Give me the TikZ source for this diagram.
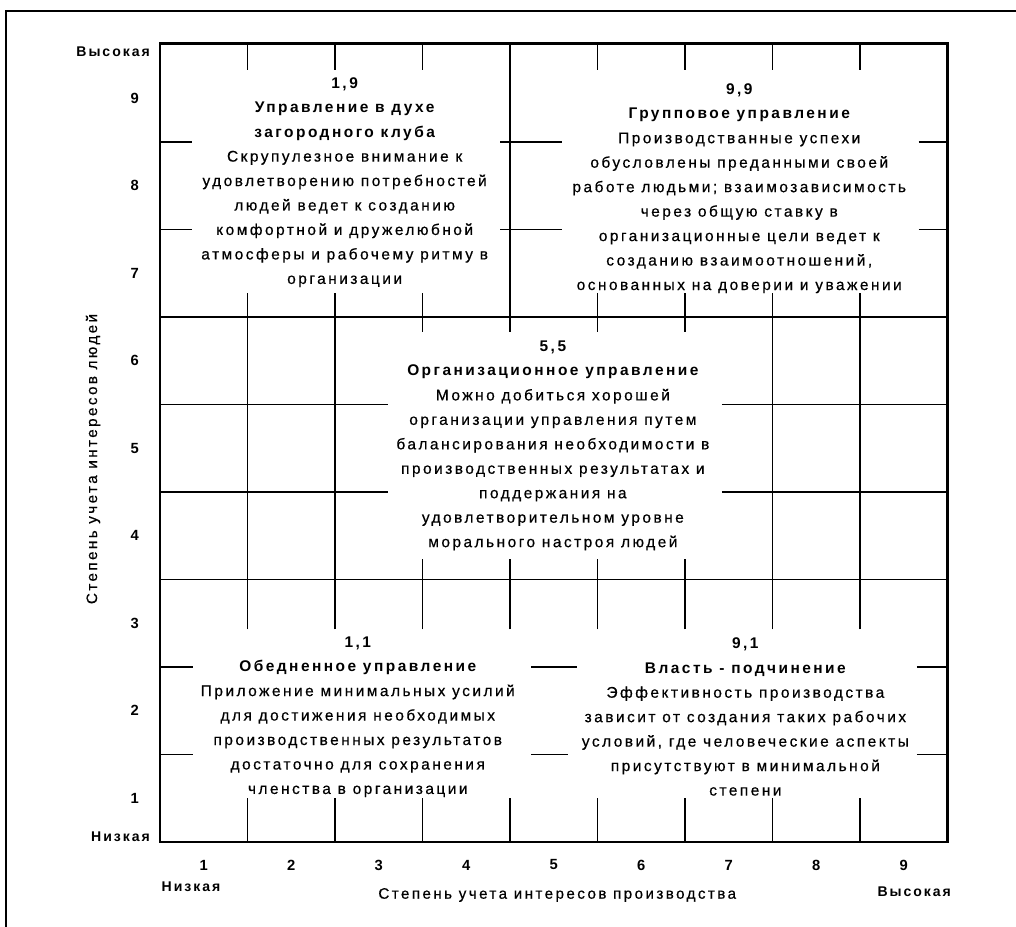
\documentclass[tikz,border=0pt]{standalone}
\usepackage{fontspec}
\setmainfont{Liberation Sans}
\newfontfamily\bodyfont{Liberation Sans}[LetterSpace=16,FakeBold=0.5]
\newfontfamily\headfont{Liberation Sans}[LetterSpace=16]
\newfontfamily\axisfont{Liberation Sans}[LetterSpace=14]
\usepackage{tikz}

\begin{document}
\begin{tikzpicture}[
		x=2.1875cm,
		y=2.1875cm,
		gridborder/.style={line width=2pt},
		gridline/.style={line width=1.3pt},
		outerframe/.style={line width=1pt},
		block/.style={align=center, inner sep=0pt, font=\bodyfont\fontsize{11}{17.4}\selectfont},
		axnum/.style={font=\axisfont\bfseries\fontsize{10.5}{12}\selectfont},
		axword/.style={font=\axisfont\bfseries\fontsize{10}{12}\selectfont},
		axtitle/.style={font=\bodyfont\fontsize{10.8}{12}\selectfont}
		]
		\useasboundingbox (-1.829,-0.971) rectangle (9.783,9.623);
		
		% Outer frame
		\draw[outerframe] (-1.76,-0.971) -- (-1.76,9.497) -- (9.783,9.497);
		
		% Grid border and main lines
		\draw[gridborder] (0,0) rectangle (9,9.13);
		\draw[gridline] (0,6) -- (9,6);
		\draw[gridline] (0,3) -- (9,3);
		\draw[gridline] (4,5.83) -- (4,9.13);
		\foreach \x in {1,2,7,8}{
			\draw[gridline] (\x,2.43) -- (\x,6.27);
		}
		\foreach \x in {3,5,6}{
			\draw[gridline] (\x,5.83) -- (\x,6.27);
		}
		\foreach \x in {3,4,5,6}{
			\draw[gridline] (\x,2.43) -- (\x,3.23);
		}
		\foreach \x in {1,...,8}{
			\draw[gridline] (\x,9.13) -- (\x,8.82);
			\draw[gridline] (\x,0) -- (\x,0.5);
		}
		
		% Horizontal ticks
		\foreach \y in {7,8}{
			\draw[gridline] (0,\y) -- (0.37,\y);
			\draw[gridline] (3.89,\y) -- (4.59,\y);
			\draw[gridline] (8.67,\y) -- (9,\y);
		}
		\foreach \y in {4,5}{
			\draw[gridline] (0,\y) -- (2.6,\y);
			\draw[gridline] (6.42,\y) -- (9,\y);
		}
		\foreach \y in {1,2}{
			\draw[gridline] (0,\y) -- (0.38,\y);
			\draw[gridline] (8.65,\y) -- (9,\y);
		}
		\draw[gridline] (4.24,2) -- (4.77,2);
		\draw[gridline] (4.24,1) -- (4.66,1);
		
		% Axis numbers
		\foreach \n in {1,...,9}{
			\node[axnum] (xn\n) at (\n-0.5,-0.263) {\n};
			\node[axnum] (yn\n) at (-0.29,\n-0.5) {\n};
		}
		
		% Axis labels
		\node[axword, anchor=east] (yhigh) at (-0.06,9.03) {Высокая};
		\node[axword, anchor=east] (ylow) at (-0.06,0.06) {Низкая};
		\node[axword] (xlow) at (0.354,-0.514) {Низкая};
		\node[axword] (xhigh) at (8.62,-0.571) {Высокая};
		\node[axtitle] (xtitle) at (4.54,-0.606) {Степень учета интересов производства};
		\node[axtitle, rotate=90] (ytitle) at (-0.766,4.377) {Степень учета интересов людей};
		
		% Style blocks
		\node[block] (q19) at (2.11,7.54) {%
			{\headfont\bfseries 1,9}\\
			{\headfont\bfseries Управление в духе}\\
			{\headfont\bfseries загородного клуба}\\
			Скрупулезное внимание к\\
			удовлетворению потребностей\\
			людей ведет к созданию\\
			комфортной и дружелюбной\\
			атмосферы и рабочему ритму в\\
			организации};
		\node[block] (q99) at (6.62,7.47) {%
			{\headfont\bfseries 9,9}\\
			{\headfont\bfseries Групповое управление}\\
			Производстванные успехи\\
			обусловлены преданными своей\\
			работе людьми; взаимозависимость\\
			через общую ставку в\\
			организационные цели ведет к\\
			созданию взаимоотношений,\\
			основанных на доверии и уважении};
		\node[block] (q55) at (4.49,4.53) {%
			{\headfont\bfseries 5,5}\\
			{\headfont\bfseries Организационное управление}\\
			Можно добиться хорошей\\
			организации управления путем\\
			балансирования необходимости в\\
			производственных результатах и\\
			поддержания на\\
			удовлетворительном уровне\\
			морального настроя людей};
		\node[block] (q11) at (2.26,1.43) {%
			{\headfont\bfseries 1,1}\\
			{\headfont\bfseries Обедненное управление}\\
			Приложение минимальных усилий\\
			для достижения необходимых\\
			производственных результатов\\
			достаточно для сохранения\\
			членства в организации};
		\node[block] (q91) at (6.69,1.43) {%
			{\headfont\bfseries 9,1}\\
			{\headfont\bfseries Власть - подчинение}\\
			Эффективность производства\\
			зависит от создания таких рабочих\\
			условий, где человеческие аспекты\\
			присутствуют в минимальной\\
			степени};
		
	\end{tikzpicture}
\end{document}
